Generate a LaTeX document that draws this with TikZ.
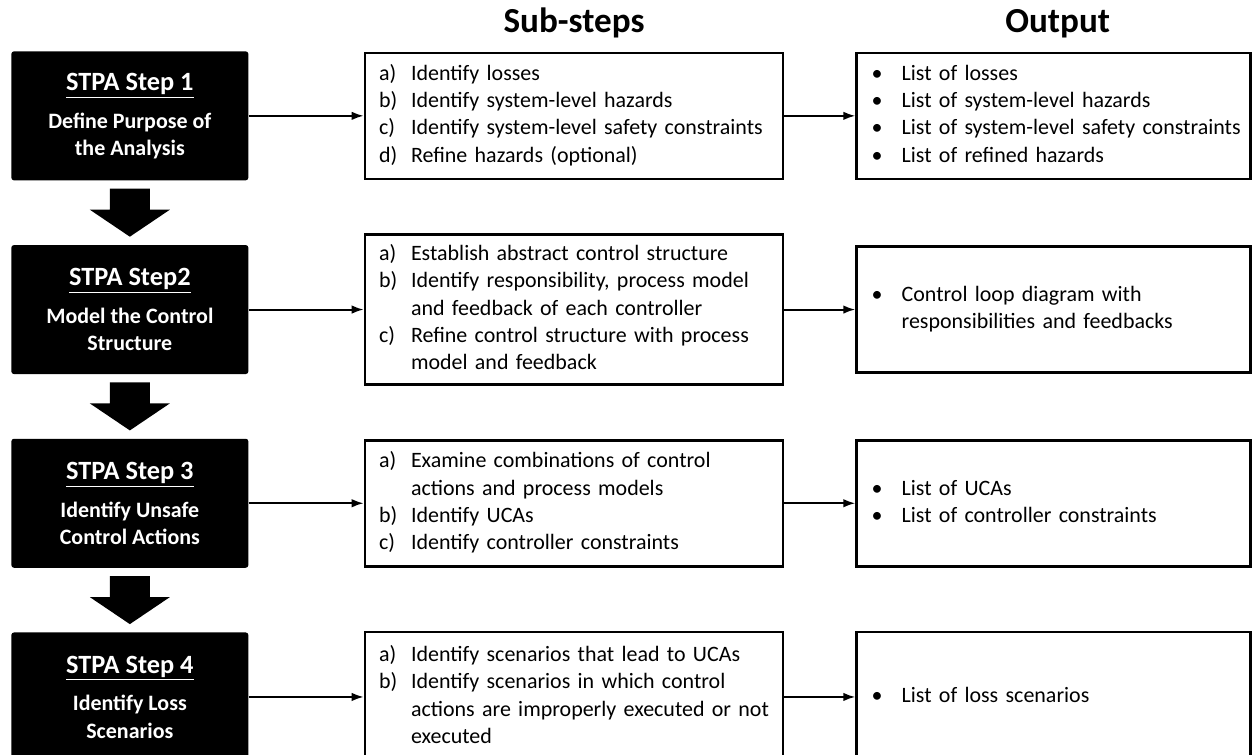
\documentclass[tikz,border=0pt]{standalone}
\usepackage{fontspec}
\setmainfont{Carlito}
\usetikzlibrary{positioning,calc,arrows.meta}
\tikzset{
  stepbox/.style={fill=black, text=white, rounded corners=1.5pt, inner sep=0pt,
    minimum width=4.74cm, minimum height=2.58cm, align=center,
    font=\bfseries\fontsize{12.5}{15.5}\selectfont},
  subbox/.style={draw, line width=1.5pt, text width=7.8cm, inner xsep=0.28cm,
    inner ysep=0.1cm, minimum height=2.52cm, align=left,
    font=\fontsize{12.5}{15.5}\selectfont},
  outbox/.style={subbox, text width=7.28cm, inner xsep=0.3cm},
  heading/.style={inner sep=0pt, font=\bfseries\fontsize{20}{24}\selectfont}
}
\newcommand{\steptitle}[1]{{\fontsize{15}{18}\selectfont\underline{#1}}\\[6pt]}

\begin{document}
\begin{tikzpicture}[>={Latex[length=2.4mm,width=1.7mm]}]
  % Configurable parameters
  \def\shaft{0.4cm}
  \def\head{0.8cm}
  \def\gap{0.16cm}
  \def\neck{0.58cm}
  %
  \useasboundingbox (0,0) rectangle (25.08,-15.1);
  %
  % Step boxes
  \node[stepbox, anchor=north west] (step1) at (0.22,-1.02)
    {\steptitle{STPA Step 1}Define Purpose of\\the Analysis};
  \node[stepbox, below=1.28cm of step1] (step2)
    {\steptitle{STPA Step2}Model the Control\\Structure};
  \node[stepbox, below=1.28cm of step2] (step3)
    {\steptitle{STPA Step 3}Identify Unsafe\\Control Actions};
  \node[stepbox, below=1.28cm of step3] (step4)
    {\steptitle{STPA Step 4}Identify Loss\\Scenarios};
  %
  % Sub-step boxes
  \node[subbox, right=2.3cm of step1] (sub1)
    {\begin{tabular}{@{}p{0.64cm}@{}l@{}}
      a) & Identify losses\\
      b) & Identify system-level hazards\\
      c) & Identify system-level safety constraints\\
      d) & Refine hazards (optional)
    \end{tabular}};
  \node[subbox, minimum height=3cm, right=2.3cm of step2] (sub2)
    {\begin{tabular}{@{}p{0.64cm}@{}l@{}}
      a) & Establish abstract control structure\\
      b) & Identify responsibility, process model\\
         & and feedback of each controller\\
      c) & Refine control structure with process\\
         & model and feedback
    \end{tabular}};
  \node[subbox, right=2.3cm of step3] (sub3)
    {\begin{tabular}{@{}p{0.64cm}@{}l@{}}
      a) & Examine combinations of control\\
         & actions and process models\\
      b) & Identify UCAs\\
      c) & Identify controller constraints
    \end{tabular}};
  \node[subbox, minimum height=2.6cm, right=2.3cm of step4] (sub4)
    {\begin{tabular}{@{}p{0.64cm}@{}l@{}}
      a) & Identify scenarios that lead to UCAs\\
      b) & Identify scenarios in which control\\
         & actions are improperly executed or not\\
         & executed
    \end{tabular}};
  %
  % Output boxes
  \node[outbox, right=1.42cm of sub1] (out1)
    {\begin{tabular}{@{}p{0.6cm}@{}l@{}}
      \textbullet & List of losses\\
      \textbullet & List of system-level hazards\\
      \textbullet & List of system-level safety constraints\\
      \textbullet & List of refined hazards
    \end{tabular}};
  \node[outbox, right=1.42cm of sub2] (out2)
    {\begin{tabular}{@{}p{0.6cm}@{}l@{}}
      \textbullet & Control loop diagram with\\
                  & responsibilities and feedbacks
    \end{tabular}};
  \node[outbox, right=1.42cm of sub3] (out3)
    {\begin{tabular}{@{}p{0.6cm}@{}l@{}}
      \textbullet & List of UCAs\\
      \textbullet & List of controller constraints
    \end{tabular}};
  \node[outbox, minimum height=2.6cm, right=1.42cm of sub4] (out4)
    {\begin{tabular}{@{}p{0.6cm}@{}l@{}}
      \textbullet & List of loss scenarios
    \end{tabular}};
  %
  % Headings
  \node[heading, above=0.26cm of sub1] (subhead) {Sub-steps};
  \node[heading, above=0.26cm of out1, xshift=0.08cm] (outhead) {Output};
  %
  % Connecting arrows
  \foreach \i in {1,...,4} {
    \draw[->, line width=1.1pt] (step\i.east) -- (sub\i.west);
    \draw[->, line width=1.1pt] (sub\i.east) -- (out\i.west);
  }
  %
  % Block arrows between steps
  \foreach \a/\b in {step1/step2,step2/step3,step3/step4}
    \fill let \p1=(\a.south), \p2=(\b.north) in
      (\x1-\shaft,\y1-\gap) -- (\x1+\shaft,\y1-\gap) -- (\x1+\shaft,\y1-\neck)
      -- (\x1+\head,\y1-\neck) -- (\x1,\y2+\gap) -- (\x1-\head,\y1-\neck)
      -- (\x1-\shaft,\y1-\neck) -- cycle;
  %
\end{tikzpicture}
\end{document}
